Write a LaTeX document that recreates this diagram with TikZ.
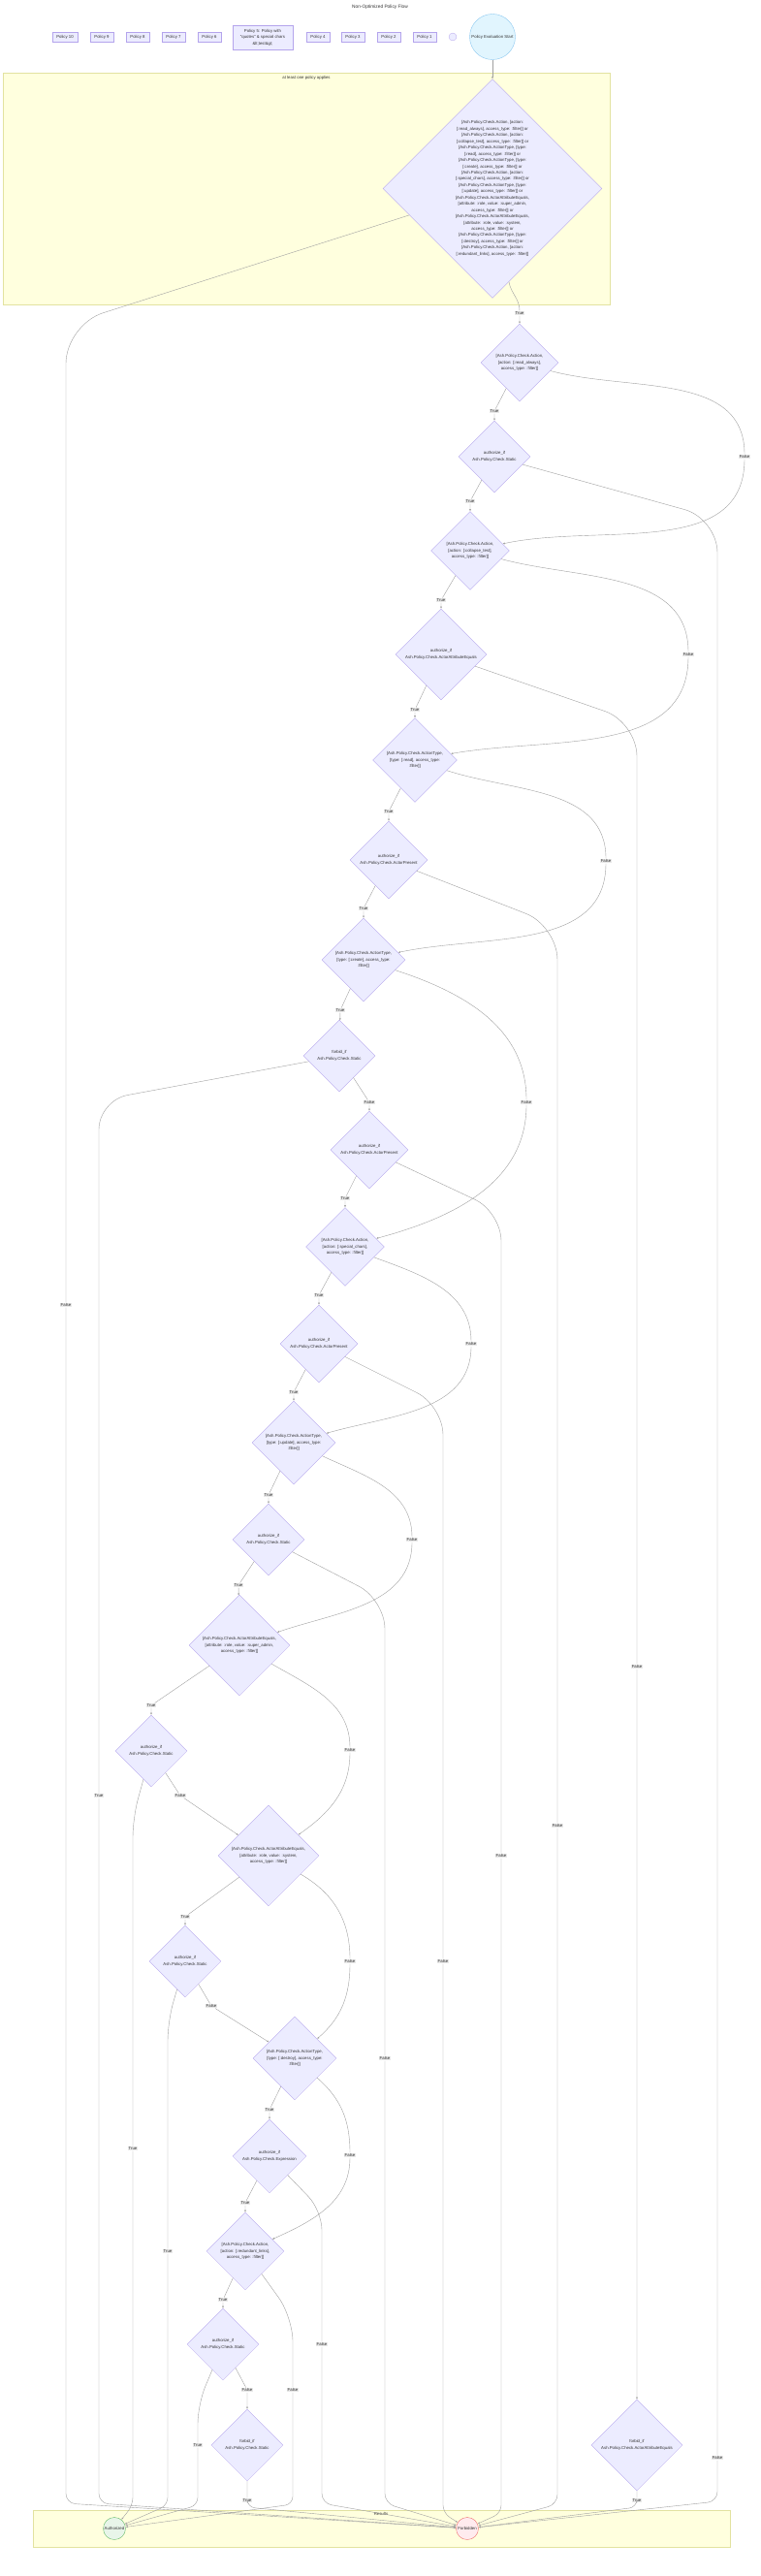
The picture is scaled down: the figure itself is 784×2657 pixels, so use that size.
\documentclass[tikz,border=0pt]{standalone}
\usepackage{fontspec}
\setmainfont{Liberation Sans}
\usetikzlibrary{shapes.geometric,arrows.meta}

\definecolor{nodefill}{HTML}{ECECFF}
\definecolor{nodeline}{HTML}{B4A4EC}
\definecolor{clusterfill}{HTML}{FFFFDE}
\definecolor{clusterline}{HTML}{E2E2A0}
\definecolor{edgecol}{HTML}{A0A0A0}
\definecolor{lblfill}{HTML}{E8E8E8}
\definecolor{textcol}{HTML}{333333}
\definecolor{startfill}{HTML}{E1F5FE}
\definecolor{startline}{HTML}{8CC8F0}
\definecolor{authfill}{HTML}{E8F5E9}
\definecolor{authline}{HTML}{66BB6A}
\definecolor{forbfill}{HTML}{FFEBEE}
\definecolor{forbline}{HTML}{EF6F6F}

\newcommand{\flowfont}{\fontsize{4.3}{6.45}\selectfont}

\tikzset{
  decision/.style={diamond, aspect=1, draw=nodeline, fill=nodefill, line width=0.3pt,
    inner sep=0pt, align=center, font=\flowfont, text=textcol},
  policybox/.style={rectangle, draw=nodeline, fill=nodefill, line width=0.3pt,
    minimum height=10pt, inner sep=0.5pt, align=center, font=\flowfont, text=textcol},
  lbl/.style={fill=lblfill, inner sep=0.8pt, font=\flowfont, text=textcol},
  edge/.style={draw=edgecol, line width=0.4pt, -{Latex[length=2.2pt,width=1.9pt]}},
  cluster/.style={draw=clusterline, fill=clusterfill, line width=0.4pt},
  clustertitle/.style={font=\flowfont, text=textcol, inner sep=0pt}
}

\begin{document}
\begin{tikzpicture}[x=1pt,y=1pt]
\useasboundingbox (0,0) rectangle (784,-2657);

% subgraphs
\draw[cluster] (3,-75) rectangle (629,-314);
\node[clustertitle] (appliestitle) at (316,-80) {at least one policy applies};
\draw[cluster] (34,-2589) rectangle (753,-2627);
\node[clustertitle] (resultstitle) at (393,-2593) {Results};

\node[font=\fontsize{4.8}{6}\selectfont, text=textcol] (title) at (392,-7) {Non-Optimized Policy Flow};

% policy row
\node[policybox, minimum width=26pt] (P10) at (67,-38) {Policy 10};
\node[policybox, minimum width=24pt] (P9) at (105,-38) {Policy 9};
\node[policybox, minimum width=24pt] (P8) at (142,-38) {Policy 8};
\node[policybox, minimum width=24pt] (P7) at (179,-38) {Policy 7};
\node[policybox, minimum width=24pt] (P6) at (216,-38) {Policy 6};
\node[policybox, minimum width=62pt, minimum height=25pt] (P5) at (271,-38.5) {Policy 5: Policy with\\"quotes" \& special chars\\\&lt;test\&gt;};
\node[policybox, minimum width=24pt] (P4) at (328,-38) {Policy 4};
\node[policybox, minimum width=24pt] (P3) at (364,-38) {Policy 3};
\node[policybox, minimum width=24pt] (P2) at (401,-38) {Policy 2};
\node[policybox, minimum width=24pt] (P1) at (438,-38) {Policy 1};
\node[circle, draw=nodeline, fill=nodefill, line width=0.3pt, minimum size=8pt, inner sep=0pt] (blank) at (467,-38) {};
\node[circle, draw=startline, fill=startfill, line width=0.4pt, minimum size=47pt, inner sep=0pt,
  font=\flowfont, text=textcol] (start) at (508,-38) {Policy Evaluation Start};

% decisions
\node[decision, minimum size=226pt] (D1) at (508,-194.5) {[Ash.Policy.Check.Action, [action:\\{[}:read\_always], access\_type: :filter]] or\\{[}Ash.Policy.Check.Action, [action:\\{[}:collapse\_test], access\_type: :filter]] or\\{[}Ash.Policy.Check.ActionType, [type:\\{[}:read], access\_type: :filter]] or\\{[}Ash.Policy.Check.ActionType, [type:\\{[}:create], access\_type: :filter]] or\\{[}Ash.Policy.Check.Action, [action:\\{[}:special\_chars], access\_type: :filter]] or\\{[}Ash.Policy.Check.ActionType, [type:\\{[}:update], access\_type: :filter]] or\\{[}Ash.Policy.Check.ActorAttributeEquals,\\{[}attribute: :role, value: :super\_admin,\\access\_type: :filter]] or\\{[}Ash.Policy.Check.ActorAttributeEquals,\\{[}attribute: :role, value: :system,\\access\_type: :filter]] or\\{[}Ash.Policy.Check.ActionType, [type:\\{[}:destroy], access\_type: :filter]] or\\{[}Ash.Policy.Check.Action, [action:\\{[}:redundant\_links], access\_type: :filter]]};
\node[decision, minimum size=80pt] (D2) at (536,-374) {[Ash.Policy.Check.Action,\\{[}action: [:read\_always],\\access\_type: :filter]]};
\node[decision, minimum size=74pt] (D3) at (510,-471) {authorize\_if\\Ash.Policy.Check.Static};
\node[decision, minimum size=81pt] (D4) at (485,-568) {[Ash.Policy.Check.Action,\\{[}action: [:collapse\_test],\\access\_type: :filter]]};
\node[decision, minimum size=94pt] (D5) at (455,-675) {authorize\_if\\Ash.Policy.Check.ActorAttributeEquals};
\node[decision, minimum size=87pt] (D6) at (428,-784) {[Ash.Policy.Check.ActionType,\\{[}type: [:read], access\_type:\\:filter]]};
\node[decision, minimum size=80pt] (D7) at (401,-887) {authorize\_if\\Ash.Policy.Check.ActorPresent};
\node[decision, minimum size=86pt] (D8) at (375,-990) {[Ash.Policy.Check.ActionType,\\{[}type: [:create], access\_type:\\:filter]]};
\node[decision, minimum size=74pt] (D9) at (350,-1089) {forbid\_if\\Ash.Policy.Check.Static};
\node[decision, minimum size=80pt] (D10) at (381,-1186) {authorize\_if\\Ash.Policy.Check.ActorPresent};
\node[decision, minimum size=81pt] (D11) at (356,-1286) {[Ash.Policy.Check.Action,\\{[}action: [:special\_chars],\\access\_type: :filter]]};
\node[decision, minimum size=80pt] (D12) at (329,-1386) {authorize\_if\\Ash.Policy.Check.ActorPresent};
\node[decision, minimum size=86pt] (D13) at (303,-1488) {[Ash.Policy.Check.ActionType,\\{[}type: [:update], access\_type:\\:filter]]};
\node[decision, minimum size=74pt] (D14) at (277,-1588) {authorize\_if\\Ash.Policy.Check.Static};
\node[decision, minimum size=104pt] (D15) at (247,-1697) {[Ash.Policy.Check.ActorAttributeEquals,\\{[}attribute: :role, value: :super\_admin,\\access\_type: :filter]]};
\node[decision, minimum size=74pt] (D16) at (156,-1806) {authorize\_if\\Ash.Policy.Check.Static};
\node[decision, minimum size=104pt] (D17) at (277,-1914) {[Ash.Policy.Check.ActorAttributeEquals,\\{[}attribute: :role, value: :system,\\access\_type: :filter]]};
\node[decision, minimum size=74pt] (D18) at (191,-2023) {authorize\_if\\Ash.Policy.Check.Static};
\node[decision, minimum size=86pt] (D19) at (304,-2123) {[Ash.Policy.Check.ActionType,\\{[}type: [:destroy], access\_type:\\:filter]]};
\node[decision, minimum size=76pt] (D20) at (278,-2224) {authorize\_if\\Ash.Policy.Check.Expression};
\node[decision, minimum size=80pt] (D21) at (253,-2322) {[Ash.Policy.Check.Action,\\{[}action: [:redundant\_links],\\access\_type: :filter]]};
\node[decision, minimum size=74pt] (D22) at (230,-2418) {authorize\_if\\Ash.Policy.Check.Static};
\node[decision, minimum size=74pt] (D23) at (255,-2522) {forbid\_if\\Ash.Policy.Check.Static};
\node[decision, minimum size=94pt] (D24) at (657,-2522) {forbid\_if\\Ash.Policy.Check.ActorAttributeEquals};

% results
\node[circle, draw=authline, fill=authfill, line width=0.4pt, minimum size=23pt, inner sep=0pt,
  font=\flowfont, text=textcol] (auth) at (118,-2608) {Authorized};
\node[circle, draw=forbline, fill=forbfill, line width=0.4pt, minimum size=23pt, inner sep=0pt,
  font=\flowfont, text=textcol] (forb) at (482,-2608) {Forbidden};

% edge labels
\node[lbl] (t1) at (536,-323) {True};
\node[lbl] (t2) at (510,-424) {True};
\node[lbl] (t3) at (485,-517) {True};
\node[lbl] (t4) at (455,-619) {True};
\node[lbl] (t5) at (428,-732) {True};
\node[lbl] (t6) at (401,-837) {True};
\node[lbl] (t7) at (375,-937) {True};
\node[lbl] (t8) at (351,-1042) {True};
\node[lbl] (f9) at (381,-1137) {False};
\node[lbl] (t10) at (356,-1236) {True};
\node[lbl] (t11) at (329,-1336) {True};
\node[lbl] (t12) at (303,-1436) {True};
\node[lbl] (t13) at (277,-1542) {True};
\node[lbl] (t14) at (246,-1635) {True};
\node[lbl] (t15) at (156,-1759) {True};
\node[lbl] (f16) at (186,-1852) {False};
\node[lbl] (t17) at (191,-1977) {True};
\node[lbl] (f18) at (218,-2069) {False};
\node[lbl] (t19) at (278,-2176) {True};
\node[lbl] (t20) at (253,-2272) {True};
\node[lbl] (t21) at (230,-2372) {True};
\node[lbl] (f22) at (255,-2465) {False};
\node[lbl] (f2) at (768,-471) {False};
\node[lbl] (f4) at (710,-675) {False};
\node[lbl] (f6) at (625,-888) {False};
\node[lbl] (f8) at (543,-1137) {False};
\node[lbl] (f11) at (486,-1386) {False};
\node[lbl] (f13) at (425,-1588) {False};
\node[lbl] (f15) at (361,-1805) {False};
\node[lbl] (f17) at (361,-2023) {False};
\node[lbl] (f19) at (361,-2223) {False};
\node[lbl] (f1) at (68,-1346) {False};
\node[lbl] (f3) at (740,-2535) {False};
\node[lbl] (f5) at (657,-1719) {False};
\node[lbl] (f7) at (575,-1883) {False};
\node[lbl] (t9) at (102,-1852) {True};
\node[lbl] (f10) at (517,-1914) {False};
\node[lbl] (f12) at (457,-2023) {False};
\node[lbl] (f14) at (397,-2123) {False};
\node[lbl] (f20) at (332,-2418) {False};
\node[lbl] (t16) at (137,-2216) {True};
\node[lbl] (t18) at (173,-2322) {True};
\node[lbl] (t22) at (204,-2522) {True};
\node[lbl] (f21) at (302,-2465) {False};
\node[lbl] (t23) at (255,-2579) {True};
\node[lbl] (t24) at (657,-2579) {True};

% main chain
\draw[edge] (start) -- (D1);
\draw[edge] (D1) to[out=-80,in=90] (t1) -- (D2);
\draw[edge] (D2) -- (t2) -- (D3);
\draw[edge] (D3) -- (t3) -- (D4);
\draw[edge] (D4) -- (t4) -- (D5);
\draw[edge] (D5) -- (t5) -- (D6);
\draw[edge] (D6) -- (t6) -- (D7);
\draw[edge] (D7) -- (t7) -- (D8);
\draw[edge] (D8) -- (t8) -- (D9);
\draw[edge] (D9) -- (f9) -- (D10);
\draw[edge] (D10) -- (t10) -- (D11);
\draw[edge] (D11) -- (t11) -- (D12);
\draw[edge] (D12) -- (t12) -- (D13);
\draw[edge] (D13) -- (t13) -- (D14);
\draw[edge] (D14) -- (t14) -- (D15);
\draw[edge] (D15) -- (t15) -- (D16);
\draw[edge] (D16) -- (f16) -- (D17);
\draw[edge] (D17) -- (t17) -- (D18);
\draw[edge] (D18) -- (f18) -- (D19);
\draw[edge] (D19) -- (t19) -- (D20);
\draw[edge] (D20) -- (t20) -- (D21);
\draw[edge] (D21) -- (t21) -- (D22);
\draw[edge] (D22) -- (f22) -- (D23);

% policy does not apply: on to the next one
\draw[edge] (D2) to[out=-15,in=90] (f2) to[out=-90,in=12] (D4);
\draw[edge] (D4) to[out=-15,in=90] (f4) to[out=-90,in=10] (D6);
\draw[edge] (D6) to[out=-18,in=90] (f6) to[out=-90,in=12] (D8);
\draw[edge] (D8) to[out=-18,in=90] (f8) to[out=-90,in=15] (D11);
\draw[edge] (D11) to[out=-20,in=90] (f11) to[out=-90,in=16] (D13);
\draw[edge] (D13) to[out=-25,in=90] (f13) to[out=-90,in=19] (D15);
\draw[edge] (D15) to[out=-30,in=90] (f15) to[out=-90,in=35] (D17);
\draw[edge] (D17) to[out=-30,in=90] (f17) to[out=-90,in=41] (D19);
\draw[edge] (D19) to[out=-41,in=90] (f19) to[out=-90,in=24] (D21);

% down to forbidden
\draw[edge] (D1) [rounded corners=40pt] -- (68,-335) -- (f1) [rounded corners=10pt] -- (68,-2582) -- (forb);
\draw[edge] (D9) [rounded corners=30pt] -- (102,-1135) -- (t9) [rounded corners=10pt] -- (102,-2582) -- (forb);
\draw[edge] (D3) [rounded corners=35pt] -- (740,-535) -- (f3) [rounded corners=10pt] -- (740,-2580) -- (forb);
\draw[edge] (D5) [rounded corners=35pt] -- (657,-745) -- (f5) -- (D24);
\draw[edge] (D7) [rounded corners=35pt] -- (575,-955) -- (f7) [rounded corners=10pt] -- (575,-2583) -- (forb);
\draw[edge] (D10) [rounded corners=30pt] -- (517,-1250) -- (f10) [rounded corners=8pt] -- (517,-2592) -- (forb);
\draw[edge] (D12) [rounded corners=30pt] -- (457,-1450) -- (f12) [rounded corners=8pt] -- (457,-2592) -- (forb);
\draw[edge] (D14) [rounded corners=30pt] -- (397,-1650) -- (f14) [rounded corners=10pt] -- (397,-2582) -- (forb);
\draw[edge] (D20) [rounded corners=20pt] -- (332,-2280) -- (f20) [rounded corners=10pt] -- (332,-2582) -- (forb);
\draw[edge] (D23) -- (t23) [rounded corners=8pt] -- (255,-2586) -- (forb);
\draw[edge] (D24) -- (t24) [rounded corners=8pt] -- (657,-2586) -- (forb);

% down to authorized
\draw[edge] (D16) [rounded corners=20pt] -- (137,-1875) -- (t16) [rounded corners=8pt] -- (137,-2584) -- (auth);
\draw[edge] (D18) [rounded corners=20pt] -- (173,-2085) -- (t18) [rounded corners=8pt] -- (173,-2584) -- (auth);
\draw[edge] (D22) [rounded corners=20pt] -- (204,-2480) -- (t22) [rounded corners=8pt] -- (204,-2584) -- (auth);
\draw[edge] (D21) [rounded corners=25pt] -- (302,-2390) -- (f21) [rounded corners=8pt] -- (302,-2583) -- (auth);
\end{tikzpicture}
\end{document}
